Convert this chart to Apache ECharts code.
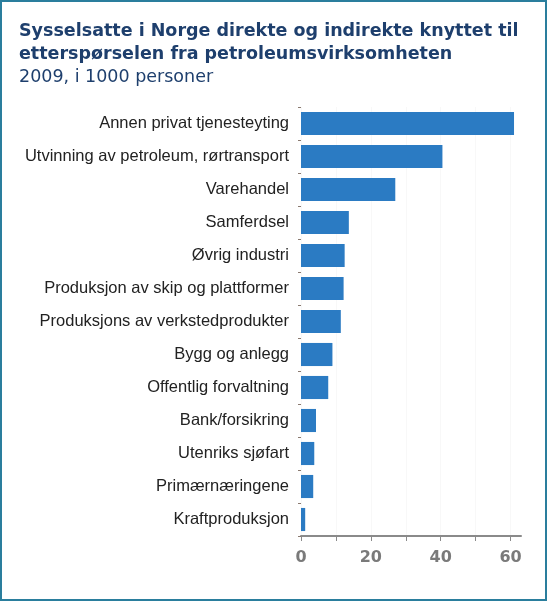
<!DOCTYPE html>
<html>
<head>
<meta charset="utf-8">
<script src="https://cdn.jsdelivr.net/npm/echarts@6/dist/echarts.min.js"></script>
<style>
html,body{margin:0;padding:0;background:#fff;}
#c{width:548px;height:602px;}
</style>
</head>
<body>
<div id="c"></div>
<script>
const titleLines = ["Sysselsatte i Norge direkte og indirekte knyttet til", "etterspørselen fra petroleumsvirksomheten"];
const subtitle = "2009, i 1000 personer";
const categories = [
  "Annen privat tjenesteyting",
  "Utvinning av petroleum, rørtransport",
  "Varehandel",
  "Samferdsel",
  "Øvrig industri",
  "Produksjon av skip og plattformer",
  "Produksjons av verkstedprodukter",
  "Bygg og anlegg",
  "Offentlig forvaltning",
  "Bank/forsikring",
  "Utenriks sjøfart",
  "Primærnæringene",
  "Kraftproduksjon"
];
const values = [61.0, 40.5, 27.0, 13.7, 12.5, 12.2, 11.4, 9.0, 7.8, 4.3, 3.8, 3.5, 1.2];
const tickValues = [0, 10, 20, 30, 40, 50, 60];
const labelValues = [0, 20, 40, 60];

const chart = echarts.init(document.getElementById('c'), null, {renderer: 'canvas'});
chart.setOption({
  backgroundColor: '#ffffff',
  animation: false,
  title: [
    {
      text: titleLines.join('\n'),
      left: 19, top: 20,
      padding: 0,
      textStyle: {fontFamily: 'DejaVu Sans', fontWeight: 'bold', fontSize: 17.5, color: '#1e3f6d', lineHeight: 23}
    },
    {
      text: subtitle,
      left: 19, top: 67,
      padding: 0,
      textStyle: {fontFamily: 'DejaVu Sans', fontWeight: 'normal', fontSize: 17.5, color: '#1e3f6d', lineHeight: 20}
    }
  ],
  graphic: [{
    type: 'rect',
    shape: {x: 1, y: 1, width: 545, height: 599},
    style: {fill: 'none', stroke: '#2a7e9d', lineWidth: 2},
    silent: true
  }],
  grid: {left: 301, right: 27, top: 107, bottom: 66, containLabel: false},
  xAxis: {
    type: 'value',
    min: 0, max: 63, interval: 10,
    axisLine: {show: true, lineStyle: {color: '#8a8a8a', width: 2}},
    axisTick: {show: true, customValues: tickValues, length: 5, lineStyle: {color: '#8a8a8a', width: 1}},
    axisLabel: {
      customValues: labelValues,
      margin: 14,
      fontFamily: 'DejaVu Sans', fontWeight: 'bold', fontSize: 16, color: '#7a7a7a'
    },
    splitLine: {show: true, lineStyle: {color: '#f8f8f8', width: 1}}
  },
  yAxis: {
    type: 'category',
    inverse: true,
    data: categories,
    axisLine: {show: false},
    axisTick: {show: true, length: 3, lineStyle: {color: '#8a7a70'}},
    axisLabel: {margin: 12, padding: [4, 0, 0, 0], fontFamily: 'Liberation Sans', fontSize: 16.5, color: '#222222'}
  },
  series: [{
    type: 'bar',
    data: values,
    barCategoryGap: '30%',
    itemStyle: {color: '#2b7bc3'}
  }]
});
</script>
</body>
</html>
